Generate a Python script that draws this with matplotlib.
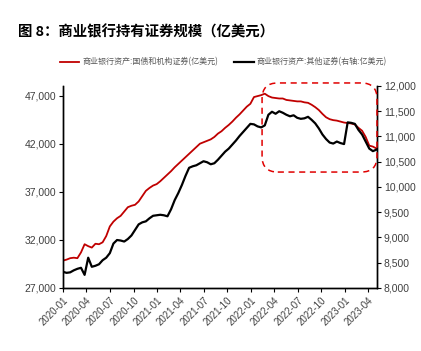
import pandas as pd
import matplotlib
matplotlib.use("Agg")
import matplotlib.pyplot as plt
import matplotlib.dates as mdates
from matplotlib.patches import FancyBboxPatch
from matplotlib.ticker import FuncFormatter

# biweekly observations, 2020-01-01 .. 2023-05-03
dates = pd.date_range("2020-01-01", periods=88, freq="14D")

# 国债和机构证券 (left axis, 亿美元)
treasury_agency = [
    29850, 29950, 30100, 30150, 30100, 30700, 31550, 31350, 31200, 31600,
    31550, 31750, 32400, 33400, 33900, 34250, 34500, 34950, 35400, 35550,
    35650, 36000, 36550, 37100, 37400, 37650, 37800, 38100, 38450, 38800,
    39150, 39550, 39900, 40250, 40600, 40950, 41300, 41650, 42000, 42150,
    42300, 42450, 42700, 43050, 43300, 43650, 43950, 44300, 44700, 45050,
    45450, 45850, 46150, 46850, 46950, 47050, 47200, 46950, 46800, 46750,
    46700, 46700, 46550, 46500, 46450, 46400, 46400, 46300, 46250, 46050,
    45800, 45500, 45100, 44750, 44550, 44450, 44400, 44300, 44200, 44150,
    44100, 44000, 43650, 43350, 42700, 41800, 41700, 41500,
]

# 其他证券 (right axis, 亿美元)
other_sec = [
    8320, 8300, 8310, 8350, 8380, 8400, 8260, 8600, 8420, 8440,
    8470, 8550, 8600, 8690, 8880, 8950, 8940, 8920, 8970, 9040,
    9150, 9260, 9300, 9320, 9380, 9430, 9440, 9450, 9440, 9420,
    9560, 9740, 9880, 10040, 10220, 10380, 10410, 10430, 10470, 10510,
    10490, 10450, 10470, 10540, 10620, 10700, 10760, 10840, 10920, 11010,
    11090, 11170, 11250, 11240, 11200, 11180, 11220, 11430, 11490, 11450,
    11500, 11470, 11430, 11400, 11420, 11370, 11350, 11360, 11390, 11330,
    11260, 11160, 11040, 10950, 10880, 10860, 10900, 10870, 10850, 11280,
    11270, 11250, 11130, 11040, 10900, 10760, 10710, 10740,
]

label_left = "商业银行资产:国债和机构证券(亿美元)"
label_right = "商业银行资产:其他证券(右轴:亿美元)"
title = "图 8：商业银行持有证券规模（亿美元）"

cjk = ["Noto Sans CJK SC", "DejaVu Sans"]
num = ["Liberation Sans", "Noto Sans CJK SC"]
tick_color = "#404040"

fig = plt.figure(figsize=(4.21, 3.51), dpi=100)
ax = fig.add_axes([0.1496, 0.1795, 0.7459, 0.5755])
ax2 = ax.twinx()

l1, = ax.plot(dates, treasury_agency, color="#C00000", lw=1.3)
l2, = ax2.plot(dates, other_sec, color="black", lw=1.6)

ax.set_xlim(pd.Timestamp("2020-01-01"), pd.Timestamp("2023-05-05"))
ax.set_ylim(27000, 48000)
ax.set_yticks(range(27000, 48000, 5000))
ax2.set_ylim(8000, 12000)
ax2.set_yticks(range(8000, 12001, 500))

fmt = FuncFormatter(lambda v, p: f"{int(v):,}")
ax.yaxis.set_major_formatter(fmt)
ax2.yaxis.set_major_formatter(fmt)

ax.xaxis.set_major_locator(mdates.MonthLocator(bymonth=[1, 4, 7, 10]))
ax.xaxis.set_major_formatter(mdates.DateFormatter("%Y-%m"))

for a in (ax, ax2):
    a.spines["top"].set_visible(False)
    for s in ("left", "right", "bottom"):
        a.spines[s].set_linewidth(1.0)
        a.spines[s].set_color("black")
    a.tick_params(length=3, width=0.8, direction="out", labelsize=7.5,
                  labelcolor=tick_color, pad=2)
    for t in a.get_yticklabels():
        t.set_family(num)

ax.tick_params(axis="x", labelsize=7)
for t in ax.get_xticklabels():
    t.set_family(num)
    t.set_rotation(45)
    t.set_ha("right")
    t.set_rotation_mode("anchor")

# dashed highlight box (axes-fraction coordinates)
w_px, h_px = 314, 202
box = FancyBboxPatch((0.634, 0.574), 0.366, 0.441,
                     boxstyle="round,pad=0,rounding_size=0.05",
                     mutation_aspect=w_px / h_px,
                     transform=ax2.transAxes, fill=False,
                     edgecolor="#E00000", lw=1.1, ls=(0, (4, 3)),
                     clip_on=False, zorder=5)
ax2.add_patch(box)

fig.text(0.043, 0.909, title, fontsize=10.4, fontweight="bold",
         family=cjk, va="center", ha="left")

leg = fig.legend([l1, l2], [label_left, label_right], ncol=2,
                 loc="center", bbox_to_anchor=(0.531, 0.823),
                 frameon=False, handlelength=2.4,
                 columnspacing=2.0, handletextpad=0.4,
                 prop={"family": cjk, "size": 5.8})
for t in leg.get_texts():
    t.set_color("#595959")

fig.savefig("out.png", dpi=100)
